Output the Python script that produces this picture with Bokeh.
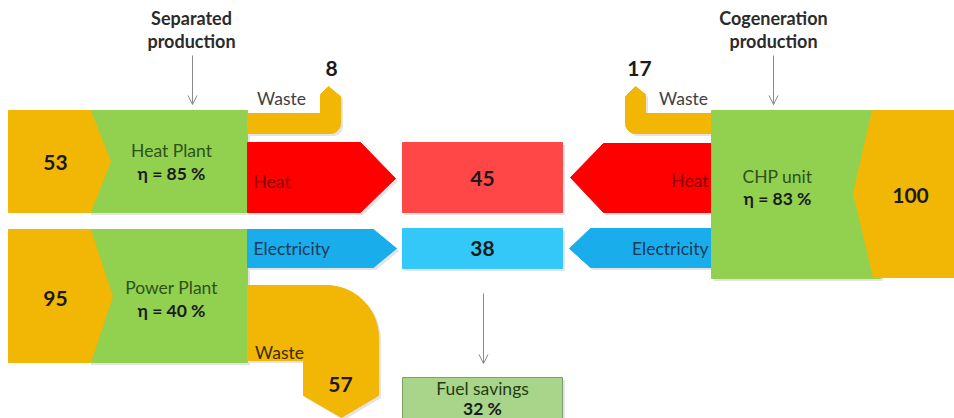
import math
from bokeh.plotting import figure
from bokeh.models import Arrow, OpenHead, Range1d
from bokeh.core.properties import value
from bokeh.embed import file_html
from bokeh.resources import INLINE

# ---------------- data ----------------
plant_names = ["Heat Plant", "Power Plant"]
plant_fuel = [53, 95]          # fuel input of separated production
plant_eff = [85, 40]           # efficiency %
plant_waste = [8, 57]          # losses
useful_names = ["Heat", "Electricity"]
useful_output = [45, 38]       # heat, electricity delivered
chp_name = "CHP unit"
chp_fuel = [100]
chp_eff = [83]
chp_waste = [17]
fuel_savings = [32]
section_titles = ["Separated\nproduction", "Cogeneration\nproduction"]

# ---------------- colours ----------------
ORANGE = "#F2B705"
GREEN = "#92D050"
RED = "#FF0000"
RED_BOX = "#FF4747"
BLUE = "#1AADEB"
BLUE_BOX = "#33C8F8"
SAVE = "#A9D58A"
FONT = value("Lato")
REG = "17.5px"
NUM = "21px"

p = figure(width=954, height=418, output_backend="svg", toolbar_location=None,
           x_range=Range1d(0, 954), y_range=Range1d(418, 0), min_border=0)
p.axis.visible = False
p.grid.visible = False
p.outline_line_color = None
p.background_fill_color = "white"
p.border_fill_color = "white"


def arc(cx, cy, r, a0, a1, n=16):
    pts = []
    for i in range(n + 1):
        a = math.radians(a0 + (a1 - a0) * i / n)
        pts.append((cx + r * math.cos(a), cy + r * math.sin(a)))
    return pts


def shape(pts, color, line=None, shadow=True):
    xs = [q[0] for q in pts]
    ys = [q[1] for q in pts]
    if shadow:
        p.patch([x + 2.5 for x in xs], [y + 2.5 for y in ys], color="#7f7f7f", alpha=0.22, line_color=None)
    p.patch(xs, ys, fill_color=color, line_color=line if line else color, line_width=1)


# ----- separated production -----
shape([(88, 110), (247, 110), (247, 212), (88, 212)], GREEN)
shape([(8, 110), (90, 110), (110, 161), (90, 212), (8, 212)], ORANGE, shadow=False)
shape([(88, 229), (247, 229), (247, 362), (88, 362)], GREEN)
shape([(8, 229), (90, 229), (112, 296), (90, 362), (8, 362)], ORANGE, shadow=False)

# waste pipes (left)
pipe = [(247, 113), (320, 113), (320, 94), (328, 86), (340, 96), (340, 123)]
pipe += arc(330, 123, 10, 0, 90)
pipe += [(247, 133)]
shape(pipe, ORANGE)

big = [(247, 285)] + arc(326, 337, 52, -90, 0) + [(378, 395), (341, 417), (303, 395), (303, 360), (247, 360)]
shape(big, ORANGE)

# useful output arrows (left)
shape([(247, 142), (360, 142), (395, 178), (360, 212), (247, 212)], RED)
shape([(247, 229), (373, 229), (396, 248), (373, 267), (247, 267)], BLUE)

# middle boxes
shape([(402, 142), (562, 142), (562, 212), (402, 212)], RED_BOX)
shape([(402, 228), (562, 228), (562, 268), (402, 268)], BLUE_BOX)
shape([(402, 377), (562, 377), (562, 425), (402, 425)], SAVE, line="#7E9E6A")

# right arrows
shape([(711, 143), (603, 143), (570, 177), (603, 212), (711, 212)], RED)
shape([(711, 228), (590, 228), (569, 248), (590, 267), (711, 267)], BLUE)

# right waste pipe
pipe_r = [(711, 113), (645, 113), (645, 94), (635, 86), (625, 96), (625, 123)]
pipe_r += arc(635, 123, 10, 180, 90)
pipe_r += [(711, 133)]
shape(pipe_r, ORANGE)

# CHP unit
shape([(711, 110), (880, 110), (880, 278), (711, 278)], GREEN)
shape([(872, 110), (960, 110), (960, 277), (873, 277), (853, 193)], ORANGE, shadow=False)

# ----- arrows for titles -----
for x0, y0, y1 in [(192, 55, 104), (773, 55, 104), (483, 293, 363)]:
    p.add_layout(Arrow(end=OpenHead(size=9, line_color="#8c8c8c", line_width=1),
                       x_start=x0, y_start=y0, x_end=x0, y_end=y1,
                       line_color="#8c8c8c", line_width=1))


def label(x, y, t, size=REG, bold=False, color="#1a1a1a", align="center"):
    p.text(x=[x], y=[y], text=[t], text_font=FONT, text_font_size=size,
           text_font_style="bold" if bold else "normal", text_color=color,
           text_align=align, text_baseline="middle")


# titles
for (x, t) in zip([191, 773], section_titles):
    l1, l2 = t.split("\n")
    label(x, 17, l1, "18px", True, "#2b2b2b")
    label(x, 40, l2, "18px", True, "#2b2b2b")

# left plants
for i, yc in enumerate([162, 298]):
    label(55, yc, str(plant_fuel[i]), NUM, True)
for i, (y1, y2) in enumerate([(150, 173), (287, 310)]):
    label(171, y1, plant_names[i], REG, False, "#2d5218")
    label(171, y2, "η = %d %%" % plant_eff[i], REG, True, "#1a1a1a")

# waste labels
label(281, 98, "Waste", REG, False, "#404040")
label(331, 68, str(plant_waste[0]), NUM, True)
label(279, 352, "Waste", REG, False, "#3a2c00")
label(340, 384, str(plant_waste[1]), NUM, True)
label(683, 98, "Waste", REG, False, "#404040")
label(639, 68, str(chp_waste[0]), NUM, True)

# useful outputs
label(253, 181, useful_names[0], REG, False, "#8a0000", "left")
label(253, 248, useful_names[1], REG, False, "#1d3a5c", "left")
label(708, 180, useful_names[0], REG, False, "#8a0000", "right")
label(708, 248, useful_names[1], REG, False, "#1d3a5c", "right")
label(482, 178, str(useful_output[0]), NUM, True)
label(482, 248, str(useful_output[1]), NUM, True)

# CHP
label(777, 176, chp_name, REG, False, "#2d5218")
label(777, 198, "η = %d %%" % chp_eff[0], REG, True, "#1a1a1a")
label(910, 195, str(chp_fuel[0]), NUM, True)

# fuel savings
label(482, 388, "Fuel savings", REG, False, "#1f3d14")
label(482, 408, "%d %%" % fuel_savings[0], REG, True, "#1a1a1a")

open("out.html", "w").write(file_html(p, INLINE))
